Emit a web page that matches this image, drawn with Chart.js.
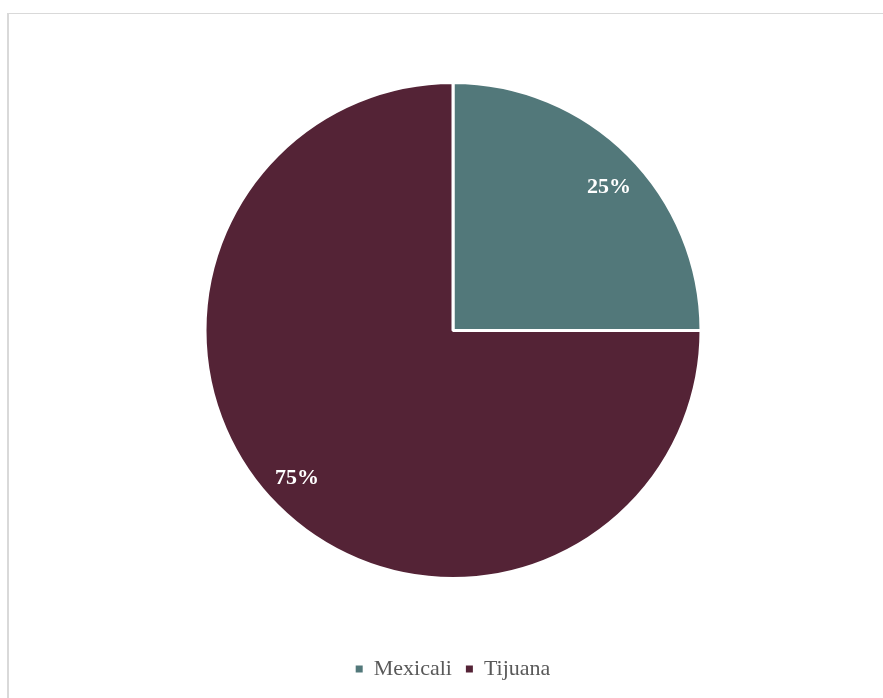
<!DOCTYPE html>
<html>
<head>
<meta charset="utf-8">
<script src="https://cdn.jsdelivr.net/npm/chart.js@4/dist/chart.umd.min.js"></script>
<style>
  html, body { margin: 0; padding: 0; background: #ffffff; overflow: hidden; }
  #frame { position: absolute; left: 7px; top: 13px; width: 900px; height: 700px;
           border-top: 1px solid #d9d9d9; border-left: 2px solid #d9d9d9; box-sizing: border-box; }
  #wrap { position: absolute; left: 0; top: 0; width: 883px; height: 698px; }
  .probe { font-family: "Liberation Serif"; position: absolute; left: -999px; }
</style>
</head>
<body>
<div id="frame"></div>
<span class="probe">Mexicali <b>25%</b></span>
<div id="wrap"><canvas id="c" width="883" height="698"></canvas></div>
<script>
const categories = ["Mexicali", "Tijuana"];
const values = [25, 75];
const valueLabels = ["25%", "75%"];
const colors = ["#52787A", "#542336"];

const SERIF = '"Liberation Serif", "Times New Roman", Times, serif';

const labelPlugin = {
  id: 'sliceLabels',
  afterDatasetsDraw(chart) {
    const ctx = chart.ctx;
    const meta = chart.getDatasetMeta(0);
    ctx.save();
    ctx.fillStyle = '#ffffff';
    ctx.font = 'bold 22px ' + SERIF;
    ctx.textAlign = 'center';
    ctx.textBaseline = 'middle';
    meta.data.forEach((arc, i) => {
      const p = arc.getProps(['x', 'y', 'startAngle', 'endAngle', 'outerRadius'], true);
      const mid = (p.startAngle + p.endAngle) / 2 + 0.035;
      const r = p.outerRadius * 0.86;
      ctx.fillText(valueLabels[i], p.x + Math.cos(mid) * r, p.y + Math.sin(mid) * r + 2);
    });
    ctx.restore();
  }
};

function draw() {
  new Chart(document.getElementById('c'), {
    type: 'pie',
    data: {
      labels: categories,
      datasets: [{
        data: values,
        backgroundColor: colors,
        borderColor: '#ffffff',
        borderWidth: 3,
        radius: 248
      }]
    },
    options: {
      responsive: false,
      animation: false,
      layout: { padding: { top: 17, left: 23, right: 0, bottom: 8 } },
      plugins: {
        legend: {
          position: 'bottom',
          labels: {
            boxWidth: 7,
            boxHeight: 7,
            padding: 14,
            color: '#595959',
            font: { family: SERIF, size: 22 },
            generateLabels(chart) {
              const items = Chart.overrides.pie.plugins.legend.labels.generateLabels(chart);
              items.forEach(it => { it.lineWidth = 0; it.strokeStyle = 'rgba(0,0,0,0)'; });
              return items;
            }
          }
        },
        tooltip: { enabled: false }
      }
    },
    plugins: [labelPlugin]
  });
}

Promise.all([
  document.fonts.load('22px "Liberation Serif"'),
  document.fonts.load('bold 22px "Liberation Serif"')
]).then(draw, draw);
</script>
</body>
</html>
